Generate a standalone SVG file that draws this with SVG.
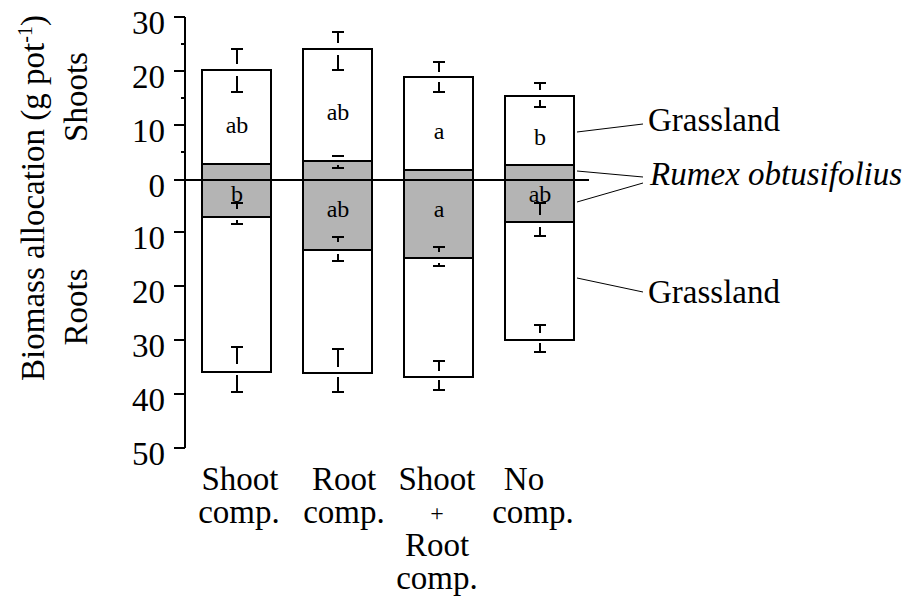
<svg xmlns="http://www.w3.org/2000/svg" width="907" height="598" viewBox="0 0 907 598">
<style>
text{font-family:"Liberation Serif","Times New Roman",serif;fill:#000}
.big{font-size:33px}
.lab{font-size:24px;text-anchor:middle}
.tick{font-size:33px;text-anchor:end}
.cat{font-size:33px;text-anchor:middle}
.ax{stroke:#000;stroke-width:2;fill:none}
.bar{fill:#fff;stroke:#000;stroke-width:2}
.rum{fill:#b4b4b4;stroke:#000;stroke-width:2}
.err{stroke:#000;stroke-width:2;fill:none}
.lead{stroke:#000;stroke-width:1;fill:none}
</style>
<rect width="907" height="598" fill="#fff"/>

<g id="axis">
<path class="ax" d="M185,17V448M174,17H185M174,71H185M174,125H185M174,232H185M174,286H185M174,340H185M174,394H185M174,448H185M181,44H185M181,98H185M181,152H185"/>
<text class="tick" x="165" y="34">30</text>
<text class="tick" x="165" y="88">20</text>
<text class="tick" x="165" y="142">10</text>
<text class="tick" x="165" y="197">0</text>
<text class="tick" x="165" y="249">10</text>
<text class="tick" x="165" y="303">20</text>
<text class="tick" x="165" y="357">30</text>
<text class="tick" x="165" y="411">40</text>
<text class="tick" x="165" y="465">50</text>
<text class="big" transform="translate(44,198) rotate(-90)" text-anchor="middle">Biomass allocation (g pot<tspan dy="-12" font-size="20">-1</tspan><tspan dy="12">)</tspan></text>
<text class="big" transform="translate(87,97) rotate(-90)" text-anchor="middle">Shoots</text>
<text class="big" transform="translate(87,307) rotate(-90)" text-anchor="middle">Roots</text>
</g>

<g id="bar1">
<rect class="bar" x="202" y="70" width="69" height="302"/>
<rect class="rum" x="202" y="164" width="69" height="53"/>
</g>
<g id="bar2">
<rect class="bar" x="303" y="49" width="69" height="324"/>
<rect class="rum" x="303" y="161" width="69" height="89"/>
</g>
<g id="bar3">
<rect class="bar" x="404" y="77" width="69" height="300"/>
<rect class="rum" x="404" y="170" width="69" height="88"/>
</g>
<g id="bar4">
<rect class="bar" x="505" y="96" width="69" height="244"/>
<rect class="rum" x="505" y="165" width="69" height="57"/>
</g>

<g id="zero-line">
<path class="ax" d="M174,180H589"/>
</g>

<g id="error-bars">
<path class="err" d="M231,49H243M237,49V64M237,76V92M231,92H243
M231,203H243M237,203V209M237,220V224M231,224H243
M231,347H243M237,347V364M237,375V392M231,392H243"/>
<path class="err" d="M332,32H344M338,32V43M338,55V70M332,70H344
M332,156H344M338,165V168M332,168H344
M332,237H344M338,237V242M338,254V261M332,261H344
M332,349H344M338,349V367M338,377V392M332,392H344"/>
<path class="err" d="M433,62H445M439,62V72M439,82V92M433,92H445
M433,247H445M439,247V252M439,263V266M433,266H445
M433,361H445M439,361V371M439,380V390M433,390H445"/>
<path class="err" d="M534,83H546M540,83V90M540,100V107M534,107H546
M534,203H546M540,203V215M540,227V236M534,236H546
M534,325H546M540,325V333M540,343V352M534,352H546"/>
</g>

<g id="bar-labels">
<text class="lab" x="237" y="133">ab</text>
<text class="lab" x="237" y="202">b</text>
<text class="lab" x="338" y="120">ab</text>
<text class="lab" x="338" y="217">ab</text>
<text class="lab" x="439" y="139">a</text>
<text class="lab" x="439" y="217">a</text>
<text class="lab" x="540" y="145">b</text>
<text class="lab" x="540" y="202">ab</text>
</g>

<g id="connectors">
<path class="lead" d="M577,132L643,124"/>
<path class="lead" d="M577,171L643,177"/>
<path class="lead" d="M577,202L643,183"/>
<path class="lead" d="M577,278L643,292"/>
</g>

<g id="legend-grassland-shoots"><text class="big" x="648" y="131">Grassland</text></g>
<g id="legend-rumex"><text class="big" x="650" y="185" font-style="italic">Rumex obtusifolius</text></g>
<g id="legend-grassland-roots"><text class="big" x="648" y="303">Grassland</text></g>

<g id="categories">
<text class="cat" x="240" y="490">Shoot</text>
<text class="cat" x="239" y="523">comp.</text>
<text class="cat" x="344" y="490">Root</text>
<text class="cat" x="344" y="523">comp.</text>
<text class="cat" x="437" y="490">Shoot</text>
<text x="437" y="521" font-size="24" text-anchor="middle">+</text>
<text class="cat" x="437" y="556">Root</text>
<text class="cat" x="437" y="589">comp.</text>
<text class="cat" x="524" y="490">No</text>
<text class="cat" x="533" y="523">comp.</text>
</g>
</svg>
